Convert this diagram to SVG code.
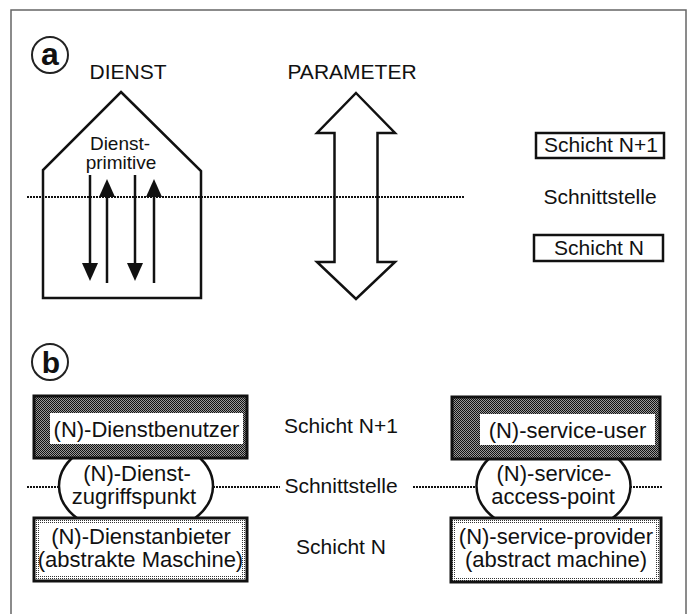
<svg xmlns="http://www.w3.org/2000/svg" width="691" height="614" viewBox="0 0 691 614">
<style>
text{font-family:"Liberation Sans",Arial,sans-serif;fill:#111}
.t21{font-size:21px}
.t22{font-size:22px}
.t19{font-size:19px}
.mid{text-anchor:middle}
.ln{stroke:#111;stroke-width:2.5;fill:#fff}
.dot{stroke:#111;stroke-width:2;stroke-dasharray:2 1;fill:none}
.arr{stroke:#111;stroke-width:2.5;fill:none}
.head{fill:#111}
.circ{fill:none;stroke:#222;stroke-width:2}
.lbl{font-weight:bold;text-anchor:middle}
</style>
<defs>
<pattern id="dark" width="2" height="2" patternUnits="userSpaceOnUse"><rect width="2" height="2" fill="#9a9a9a"/><rect width="1" height="1" fill="#111"/><rect x="1" y="1" width="1" height="1" fill="#111"/></pattern>
<pattern id="light" width="2" height="2" patternUnits="userSpaceOnUse"><rect width="2" height="2" fill="#fff"/><rect width="1" height="1" fill="#333"/></pattern>
</defs>
<rect x="0" y="0" width="691" height="614" fill="#fff"/>
<rect id="frame" x="11" y="10" width="675" height="620" fill="none" stroke="#666" stroke-width="1.5"/>

<!-- panel a -->
<g id="label-a"><circle class="circ" cx="50" cy="55" r="18"/><text class="lbl" x="50" y="65" font-size="32">a</text></g>
<text id="t-dienst" class="t21 mid" x="128" y="79">DIENST</text>
<text id="t-parameter" class="t21 mid" x="352" y="79">PARAMETER</text>

<g id="house">
<polygon class="ln" points="121,92 201,171 201,298 43,298 43,170"/>
<text class="t19 mid" x="120" y="150">Dienst-</text>
<text class="t19 mid" x="121" y="169">primitive</text>
</g>
<g id="double-arrow">
<polygon class="ln" points="356,93 395,133 377.5,133 377.5,262 395,262 356,299 317,262 334.5,262 334.5,133 317,133"/>
</g>

<g id="connectors">
<line class="dot" x1="27" y1="197" x2="465" y2="197"/>
<line class="dot" x1="27" y1="487" x2="62" y2="487"/>
<line class="dot" x1="210" y1="487" x2="280" y2="487"/>
<line class="dot" x1="413" y1="487" x2="480" y2="487"/>
<line class="dot" x1="627" y1="487" x2="662" y2="487"/>
</g>

<g id="primitives">
<line class="arr" x1="90" y1="175" x2="90" y2="265"/>
<polygon class="head" points="82,263 98,263 90,281"/>
<line class="arr" x1="135" y1="175" x2="135" y2="265"/>
<polygon class="head" points="127,263 143,263 135,281"/>
<line class="arr" x1="107" y1="283" x2="107" y2="195"/>
<polygon class="head" points="99,197 115,197 107,179"/>
<line class="arr" x1="154" y1="283" x2="154" y2="195"/>
<polygon class="head" points="146,197 162,197 154,179"/>
</g>

<g id="schicht-n1-a">
<rect x="536" y="133" width="128" height="25" fill="#fff" stroke="#111" stroke-width="2.5"/>
<text class="t21 mid" x="601" y="152">Schicht N+1</text>
</g>
<text id="schnitt-a" class="t21 mid" x="600" y="204">Schnittstelle</text>
<g id="schicht-n-a">
<rect x="534" y="235" width="129" height="26" fill="#fff" stroke="#111" stroke-width="2.5"/>
<text class="t21 mid" x="599" y="255">Schicht N</text>
</g>

<!-- panel b -->
<g id="label-b"><circle class="circ" cx="50" cy="362" r="18"/><text class="lbl" x="51" y="373" font-size="30">b</text></g>

<text id="schicht-n1-b" class="t21 mid" x="341" y="433">Schicht N+1</text>
<text id="schnitt-b" class="t21 mid" x="341" y="493">Schnittstelle</text>
<text id="schicht-n-b" class="t21 mid" x="341" y="554">Schicht N</text>

<g id="sap-de">
<ellipse class="ln" cx="136" cy="486" rx="77" ry="50"/>
<text class="t22 mid" x="137" y="481">(N)-Dienst-</text>
<text class="t22 mid" x="134" y="504">zugriffspunkt</text>
</g>
<g id="sap-en">
<ellipse class="ln" cx="553.5" cy="486" rx="77" ry="50"/>
<text class="t22 mid" x="554" y="481">(N)-service-</text>
<text class="t22 mid" x="553" y="504">access-point</text>
</g>

<g id="user-de">
<rect x="34" y="396" width="213" height="62" fill="url(#dark)" stroke="#111" stroke-width="3"/>
<rect x="50" y="413" width="193" height="31" fill="#fff"/>
<text class="t22 mid" x="146.5" y="437">(N)-Dienstbenutzer</text>
</g>
<g id="user-en">
<rect x="452" y="397" width="208" height="62" fill="url(#dark)" stroke="#111" stroke-width="3"/>
<rect x="480" y="414" width="175" height="31" fill="#fff"/>
<text class="t22 mid" x="567.5" y="438">(N)-service-user</text>
</g>

<g id="provider-de">
<rect x="34" y="518" width="213" height="63" fill="url(#light)" stroke="#111" stroke-width="3"/>
<rect x="39" y="523" width="203" height="53" fill="#fff"/>
<text class="t22 mid" x="141" y="544">(N)-Dienstanbieter</text>
<text class="t22 mid" x="140.5" y="567">(abstrakte Maschine)</text>
</g>
<g id="provider-en">
<rect x="451" y="518" width="210" height="64" fill="url(#light)" stroke="#111" stroke-width="3"/>
<rect x="456" y="523" width="200" height="54" fill="#fff"/>
<text class="t22 mid" x="556" y="544">(N)-service-provider</text>
<text class="t22 mid" x="556" y="567">(abstract machine)</text>
</g>
</svg>
